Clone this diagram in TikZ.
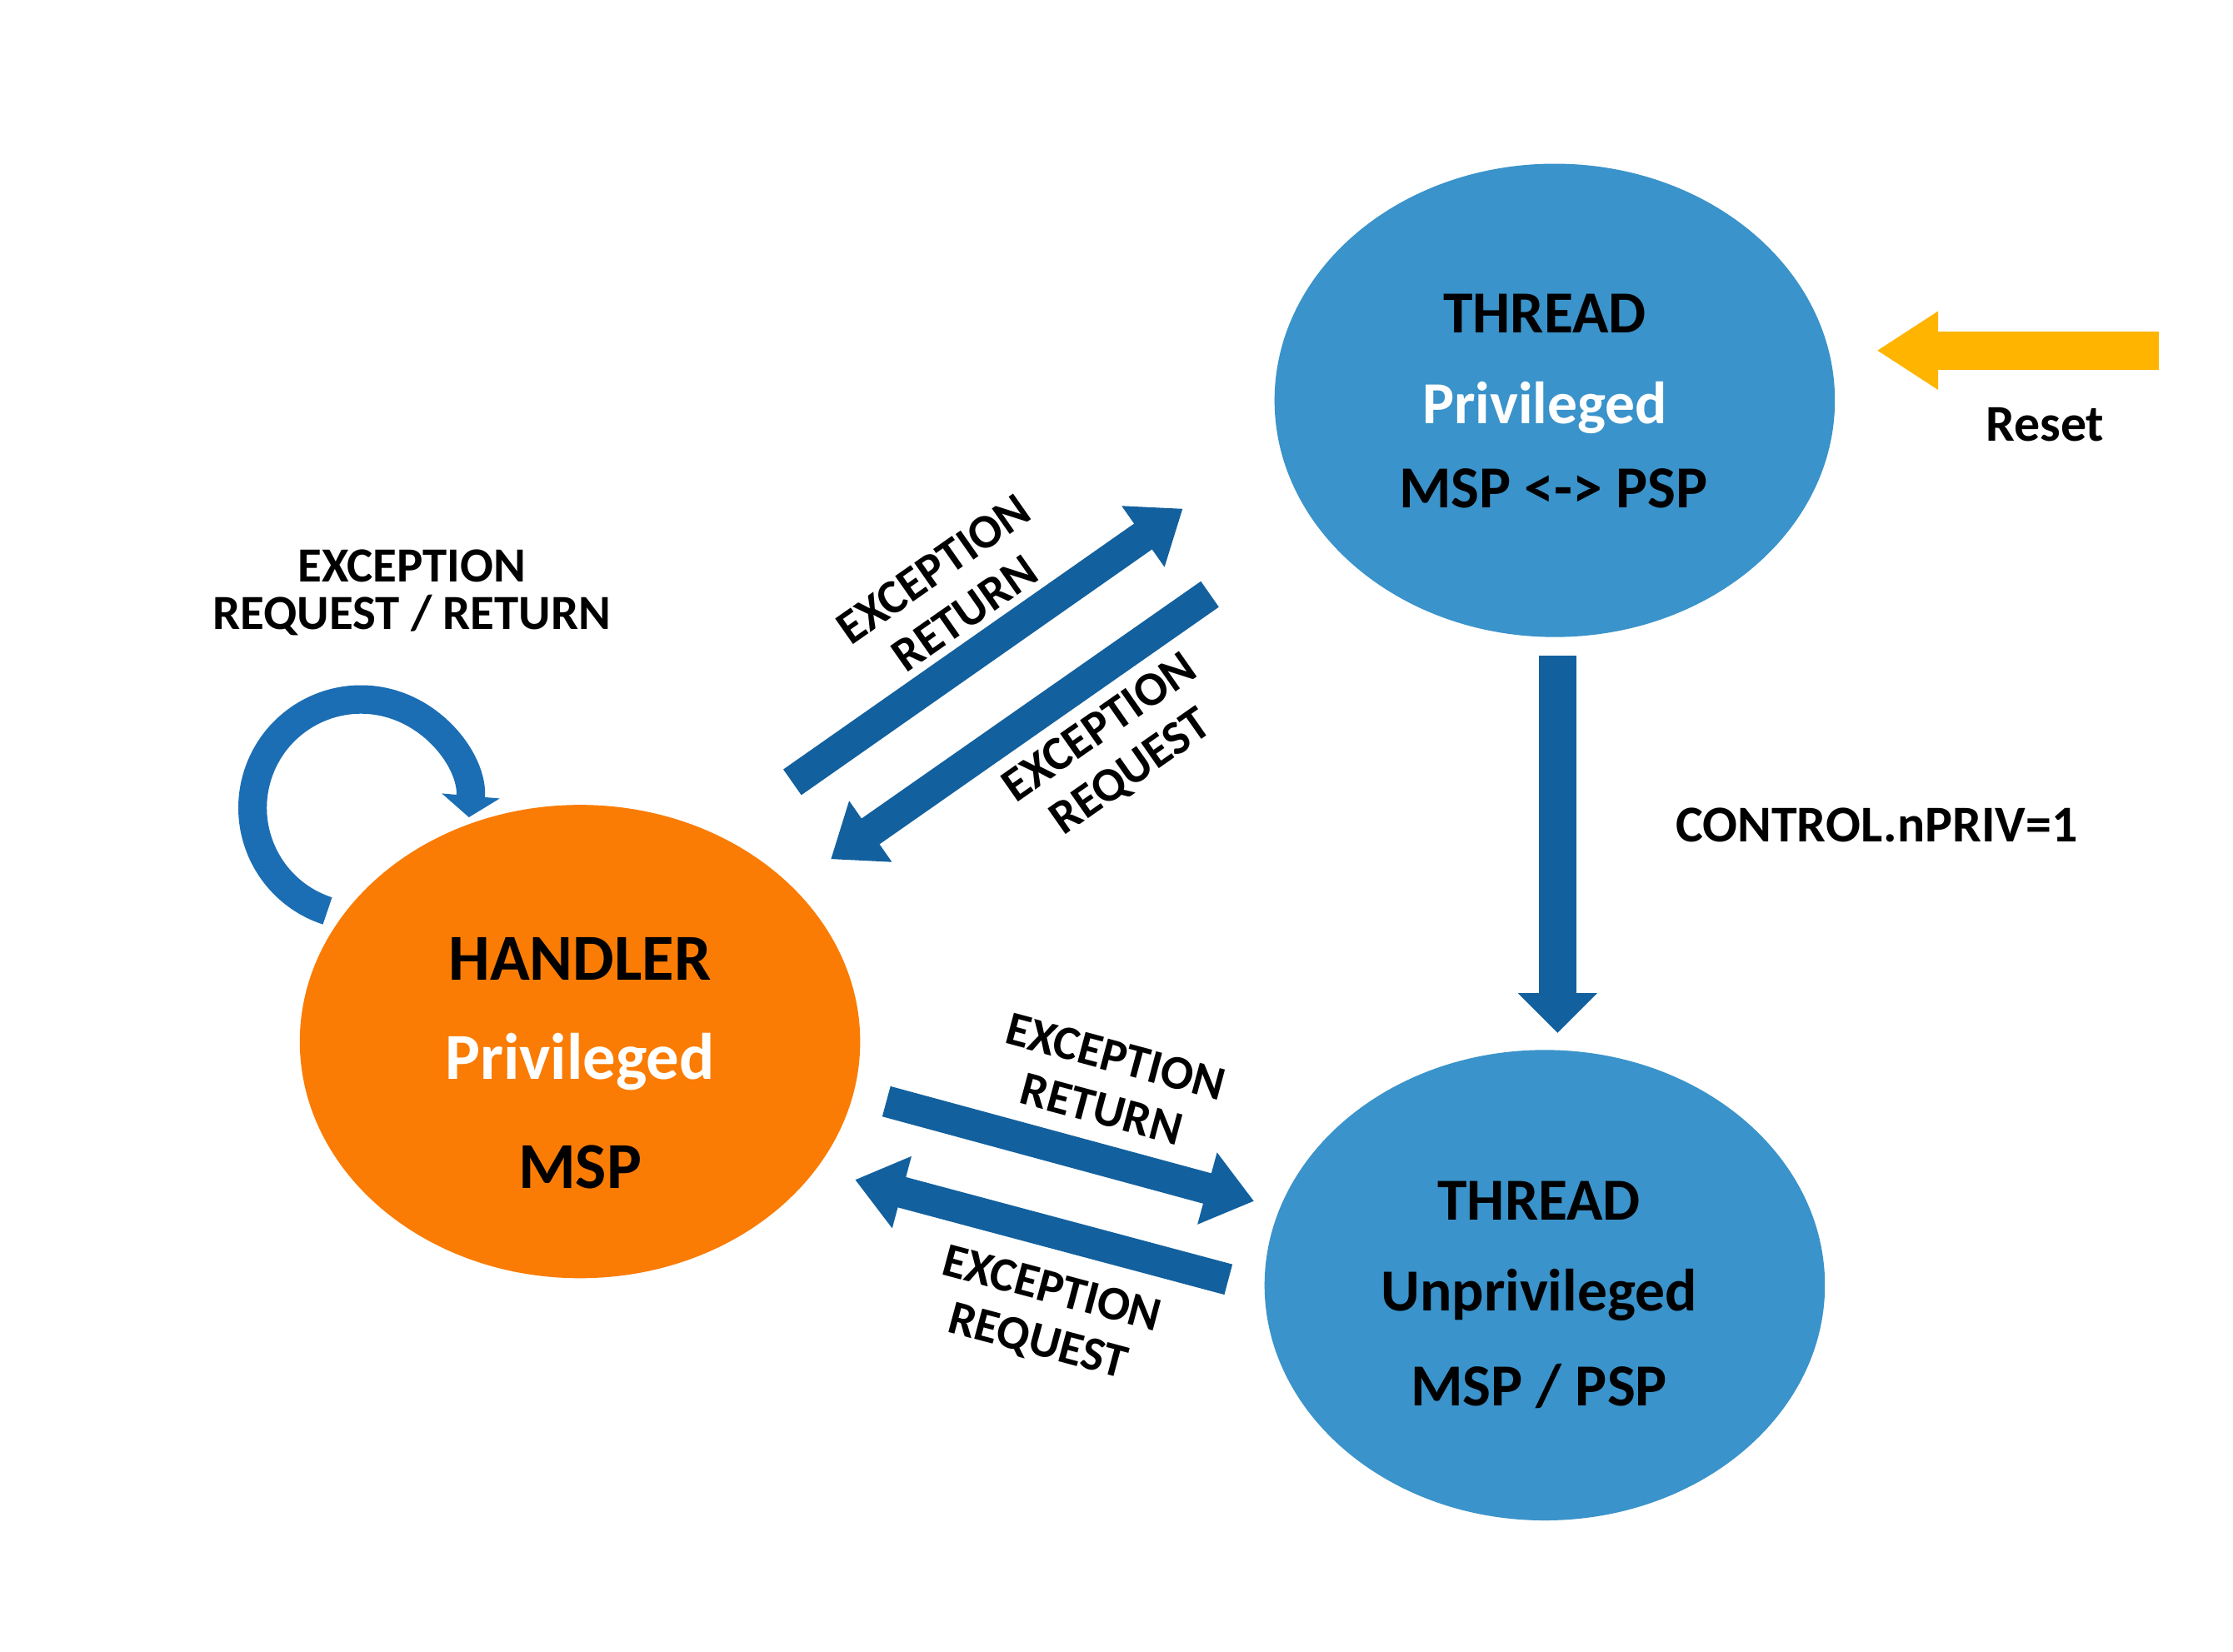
\documentclass[tikz,border=0pt]{standalone}
\usepackage{fontspec}
\setmainfont{Carlito}
\usepackage{tikz}
\usetikzlibrary{arrows.meta,shapes.geometric}

\definecolor{stateblue}{RGB}{58,147,202}
\definecolor{arrowblue}{RGB}{18,96,158}
\definecolor{loopblue}{RGB}{28,110,180}
\definecolor{handlerorange}{RGB}{250,124,4}
\definecolor{resetyellow}{RGB}{255,180,0}

\begin{document}
\begin{tikzpicture}[x=0.01cm, y=0.01cm,
  state/.style={ellipse, draw=none, minimum width=3.93cm, minimum height=3.32cm, inner sep=0pt},
  bigtxt/.style={font=\bfseries\fontsize{11.9}{14}\selectfont},
  lbl/.style={font=\bfseries\fontsize{9.8}{9.4}\selectfont, align=center},
  rotlbl/.style={font=\bfseries\fontsize{9.6}{10.8}\selectfont, align=center},
  blkarrow/.style={arrowblue, line width=0.22cm, -{Triangle[width=0.5cm,length=0.34cm]}}
]
% Canvas
\fill[white] (0,-13) rectangle (1567,1146);
\useasboundingbox (0,-13) rectangle (1567,1146);

% States
\node[state, fill=handlerorange] (handler) at (407,415) {};
\node[state, fill=stateblue] (thrpriv) at (1091,865) {};
\node[state, fill=stateblue, minimum height=3.30cm] (thrunpriv) at (1084,244) {};

% Handler text
\node[bigtxt, font=\bfseries\fontsize{13.1}{15}\selectfont] (handlerT) at (407,473) {HANDLER};
\node[bigtxt, font=\bfseries\fontsize{13.1}{15}\selectfont, white] (handlerP) at (407,401) {Privileged};
\node[bigtxt, font=\bfseries\fontsize{13.1}{15}\selectfont] (handlerM) at (407,327) {MSP};

% Thread privileged text
\node[bigtxt] (thrprivT) at (1084,926) {THREAD};
\node[bigtxt, white] (thrprivP) at (1084,860) {Privileged};
\node[bigtxt] (thrprivM) at (1090,803) {MSP <-> PSP};

% Thread unprivileged text
\node[bigtxt] (thrunprivT) at (1080,303) {THREAD};
\node[bigtxt] (thrunprivU) at (1080,237) {Unprivileged};
\node[bigtxt] (thrunprivM) at (1080,173) {MSP / PSP};

% Self loop on handler
\coordinate (loopstart) at (229.8,506.7);
\draw[loopblue, line width=0.2cm, -{Triangle[width=0.4cm,length=0.15cm]}] (loopstart) arc[start angle=252, end angle=-5, radius=0.76cm];
\node[lbl] (looplbl) at (289,730) {EXCEPTION\\REQUEST / RETURN};

% Handler <-> thread privileged
\coordinate (upret1) at (556,597);
\coordinate (upret2) at (830,789);
\coordinate (upreq1) at (849,729);
\coordinate (upreq2) at (583,543);
\draw[blkarrow] (upret1) -- (upret2);
\draw[blkarrow] (upreq1) -- (upreq2);
\node[rotlbl, rotate=35] (upretlbl) at (666,731) {EXCEPTION\\RETURN};
\node[rotlbl, rotate=35] (upreqlbl) at (783,619) {EXCEPTION\\REQUEST};

% Handler <-> thread unprivileged
\coordinate (lowret1) at (622,373);
\coordinate (lowret2) at (880,303);
\coordinate (lowreq1) at (862,248);
\coordinate (lowreq2) at (600,318);
\draw[blkarrow] (lowret1) -- (lowret2);
\draw[blkarrow] (lowreq1) -- (lowreq2);
\node[rotlbl, rotate=-15] (lowretlbl) at (778,386) {EXCEPTION\\RETURN};
\node[rotlbl, rotate=-15] (lowreqlbl) at (733,222) {EXCEPTION\\REQUEST};

% Privileged -> unprivileged
\coordinate (ctrl1) at (1093,686);
\coordinate (ctrl2) at (1093,421);
\draw[arrowblue, line width=0.26cm, -{Triangle[width=0.54cm,length=0.28cm]}] (ctrl1) -- (ctrl2);
\node[lbl, font=\bfseries\fontsize{10.3}{12}\selectfont] (ctrllbl) at (1317,567) {CONTROL.nPRIV=1};

% Reset
\coordinate (reset1) at (1515,900);
\coordinate (reset2) at (1317,900);
\draw[resetyellow, line width=0.27cm, -{Triangle[width=0.52cm,length=0.43cm]}] (reset1) -- (reset2);
\node[lbl, font=\bfseries\fontsize{10.3}{12}\selectfont] (resetlbl) at (1435,848) {Reset};
\end{tikzpicture}
\end{document}
